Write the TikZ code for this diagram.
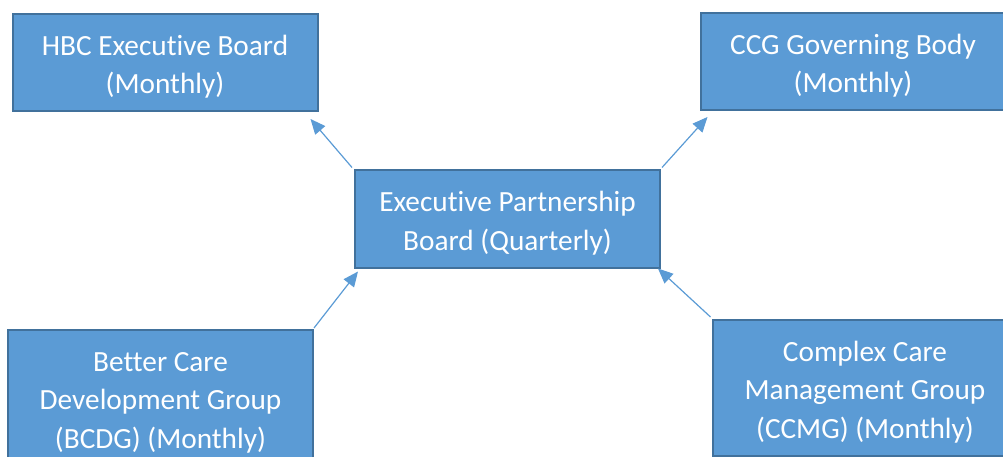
\documentclass[tikz,border=0pt]{standalone}
\usepackage{fontspec}
\setmainfont{Carlito}[Ligatures=NoCommon]
\usetikzlibrary{arrows.meta}
\definecolor{boxfill}{HTML}{5B9BD5}
\definecolor{boxline}{HTML}{41719C}
\definecolor{arrcol}{HTML}{5B9BD5}
\newcommand{\boxtext}[1]{\raisebox{-10.3pt}[0pt][0pt]{\begin{tabular}{@{}c@{}}#1\end{tabular}}}
\begin{document}
\begin{tikzpicture}[x=1pt,y=-1pt,
  box/.style={draw=boxline,line width=2pt,fill=boxfill,text=white,
    inner sep=0pt,font=\fontsize{29.3}{38.5}\selectfont},
  twoline/.style={box,minimum width=305pt,minimum height=97pt},
  threeline/.style={box,minimum width=305pt,minimum height=136pt},
  arr/.style={draw=arrcol,line width=1.2pt,-{Triangle[length=15pt,width=13pt]}}]
\useasboundingbox (0,0) rectangle (1003,457);
\clip (0,0) rectangle (1003,457);
\node[twoline] (hbc) at (165,62.5) {\boxtext{HBC Executive Board\\(Monthly)}};
\node[twoline] (ccg) at (853,61.5) {\boxtext{CCG Governing Body\\(Monthly)}};
\node[twoline] (epb) at (507.5,219) {\boxtext{Executive Partnership\\Board (Quarterly)}};
\node[threeline] (bcdg) at (160.5,398) {\boxtext{Better Care\\Development Group\\(BCDG) (Monthly)}};
\node[threeline] (ccmg) at (865,388) {\boxtext{Complex Care\\Management Group\\(CCMG) (Monthly)}};
\draw[arr] ([shift={(-2,-2)}]epb.north west) -- ([shift={(-8,7)}]hbc.south east);
\draw[arr] ([shift={(1,-2)}]epb.north east) -- ([shift={(8,6)}]ccg.south west);
\draw[arr] ([shift={(0,-1)}]bcdg.north east) -- ([shift={(4,3)}]epb.south west);
\draw[arr] ([shift={(-1,-2)}]ccmg.north west) -- ([shift={(-3,0)}]epb.south east);
\end{tikzpicture}
\end{document}
